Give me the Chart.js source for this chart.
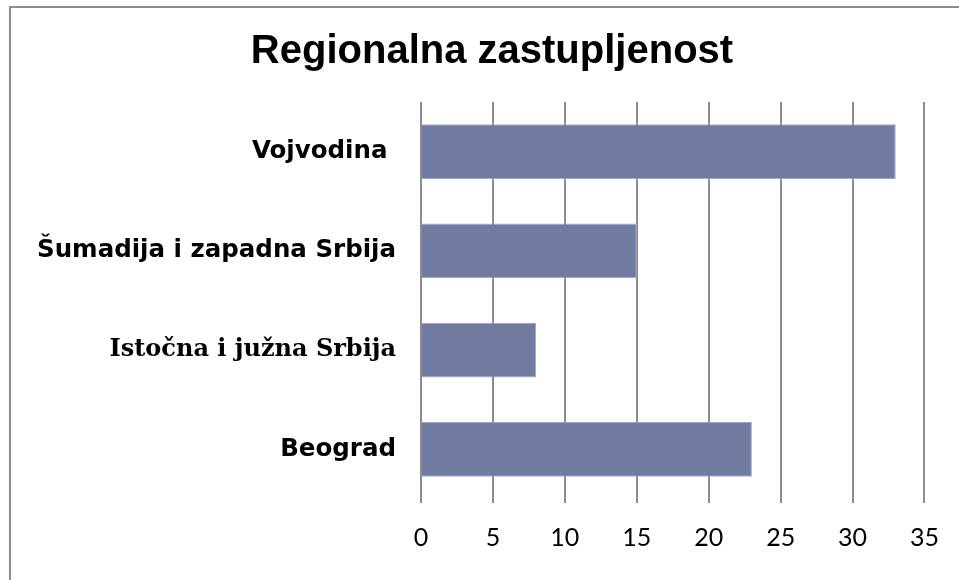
<!DOCTYPE html>
<html>
<head>
<meta charset="utf-8">
<script src="https://cdn.jsdelivr.net/npm/chart.js@4"></script>
<style>
    html, body { margin: 0; padding: 0; background: #fff; overflow: hidden; }
    #wrap { position: relative; width: 959px; height: 580px; }
    #frame {
        position: absolute; left: 9px; top: 6px; width: 1000px; height: 700px;
        border-left: 2px solid #8c8c8c; border-top: 2px solid #8c8c8c;
    }
    #chart { position: absolute; left: 0; top: 0; }
</style>
</head>
<body>
<div id="wrap">
    <div id="frame"></div>
    <canvas id="chart" width="959" height="580"></canvas>
</div>
<script>
// data
const regions = ['Vojvodina ', 'Šumadija i zapadna Srbija', 'Istočna i južna Srbija', 'Beograd'];
const shares = [33, 15, 8, 23];
const xTicks = [0, 5, 10, 15, 20, 25, 30, 35];

const sansLabel = { family: "'DejaVu Sans', Verdana, sans-serif", size: 24.5, weight: 'bold' };
const serifLabel = { family: "'DejaVu Serif', Georgia, serif", size: 24, weight: 'bold' };

// the title sits a bit right of the canvas centre, so shift its box
const titleShift = {
    id: 'titleShift',
    afterLayout(chart) {
        if (chart.titleBlock) chart.titleBlock.left = 52;
    }
};

const ctx = document.getElementById('chart').getContext('2d');
new Chart(ctx, {
    type: 'bar',
    data: {
        labels: regions,
        datasets: [{
            data: shares,
            backgroundColor: '#717ba2',
            borderColor: '#9ea6c6',
            borderWidth: 1,
            barPercentage: 0.554,
            categoryPercentage: 1
        }]
    },
    plugins: [titleShift],
    options: {
        indexAxis: 'y',
        responsive: false,
        animation: false,
        layout: { padding: { left: 12, right: 27, top: 11, bottom: 0 } },
        plugins: {
            legend: { display: false },
            tooltip: { enabled: false },
            title: {
                display: true,
                text: 'Regionalna zastupljenost',
                color: '#000',
                font: { family: "'Liberation Sans', Arial, sans-serif", size: 40, weight: 'bold' },
                padding: { top: 17, bottom: 26 }
            }
        },
        scales: {
            x: {
                min: 0,
                max: 35,
                afterBuildTicks: (scale) => { scale.ticks = xTicks.map(v => ({ value: v })); },
                afterFit: (scale) => { scale.height = 81; },
                grid: { color: '#8c8c8c', lineWidth: 2, drawTicks: true, tickLength: 4 },
                border: { display: false },
                ticks: {
                    color: '#000',
                    padding: 20,
                    font: { family: "Lato, 'Open Sans', sans-serif", size: 25 }
                }
            },
            y: {
                afterFit: (scale) => { scale.width = 409; },
                grid: { display: false },
                border: { display: false },
                ticks: {
                    color: '#000',
                    padding: 17,
                    font: (c) => (c.index === 2 ? serifLabel : sansLabel)
                }
            }
        }
    }
});
</script>
</body>
</html>
